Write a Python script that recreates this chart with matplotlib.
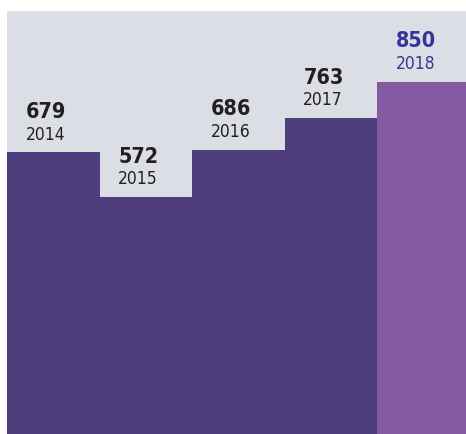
import matplotlib.pyplot as plt
import matplotlib

years = ["2014", "2015", "2016", "2017", "2018"]
values = [679, 572, 686, 763, 850]

bar_colors = ["#4f3e7e", "#4f3e7e", "#4f3e7e", "#4f3e7e", "#845ba3"]
text_colors = ["#231f20", "#231f20", "#231f20", "#231f20", "#35349a"]

matplotlib.rcParams['font.family'] = ['DejaVu Sans']

fig = plt.figure(figsize=(4.66, 4.34), dpi=100)
ax = fig.add_axes([7 / 466, 0, 459 / 466, 423 / 434])
ax.set_facecolor("#dcdee5")

x = list(range(len(values)))
ax.bar(x, values, width=1.0, color=bar_colors, align="center")

for i, (v, yr) in enumerate(zip(values, years)):
    ax.annotate(str(v), xy=(i - 0.5, v), xytext=(13.5, 24.5), textcoords="offset points",
                ha="left", va="baseline", fontsize=15.5, fontweight="bold",
                fontstretch="condensed", color=text_colors[i])
    ax.annotate(yr, xy=(i - 0.5, v), xytext=(13.5, 9.2), textcoords="offset points",
                ha="left", va="baseline", fontsize=12.5, fontstretch="condensed",
                color=text_colors[i])

ax.set_xlim(-0.5, 4.46)
ax.set_ylim(0, 1020)
ax.set_xticks([])
ax.set_yticks([])
for s in ax.spines.values():
    s.set_visible(False)

fig.savefig("out.png", dpi=100)
